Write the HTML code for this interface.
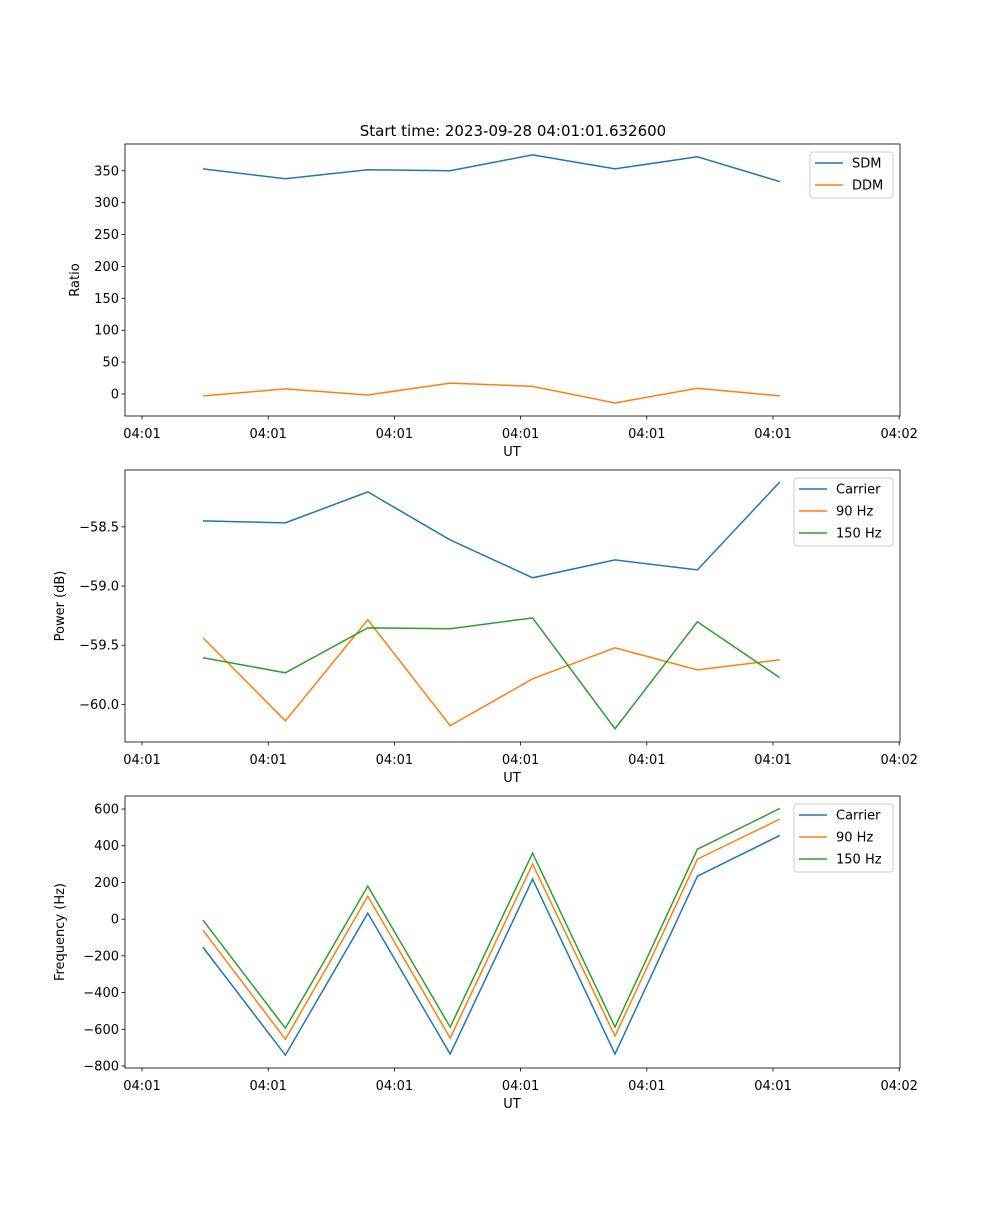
<!DOCTYPE html>
<html><head><meta charset="utf-8"><style>
body{margin:0;background:#fff;font-family:"Liberation Sans","DejaVu Sans",sans-serif}
svg text{font-family:"DejaVu Sans","Liberation Sans",sans-serif;font-size:13px;fill:#000}
</style></head><body>
<svg id="c" width="1000" height="1200" xmlns="http://www.w3.org/2000/svg">
<text x="513" y="136" text-anchor="middle" font-size="15" style="font-size:15px">Start time: 2023-09-28 04:01:01.632600</text>
</svg>
<script>
const times=[0.483,1.136,1.789,2.442,3.095,3.748,4.401,5.054];
const xTickVals=[0,1,2,3,4,5,6];
const xTickLabels=["04:01","04:01","04:01","04:01","04:01","04:01","04:02"];
const sdm=[353,337.5,351.6,350,375,353,372,333];
const ddm=[-3,8,-1.5,17,12,-14,9,-3];
const ratioTicks=[0,50,100,150,200,250,300,350];
const pCarrier=[-58.449,-58.466,-58.204,-58.61,-58.93,-58.779,-58.863,-58.12];
const p90=[-59.437,-60.139,-59.285,-60.18,-59.784,-59.522,-59.708,-59.623];
const p150=[-59.606,-59.733,-59.353,-59.361,-59.269,-60.206,-59.302,-59.775];
const powerTicks=[-60.0,-59.5,-59.0,-58.5];
const fCarrier=[-153,-741,33,-735,218,-735,234,456];
const f90=[-60,-654,125,-648,300,-637,327,545];
const f150=[-5,-594,180,-588,360,-588,381,603];
const freqTicks=[-800,-600,-400,-200,0,200,400,600];

const NS="http://www.w3.org/2000/svg";
const svg=document.getElementById('c');
function mk(t,a,p){const e=document.createElementNS(NS,t);for(const k in a)e.setAttribute(k,a[k]);(p||svg).appendChild(e);return e;}
const L=125,R=900;
function xs(t){return 142+t*126.2;}
const C=['#1f77b4','#ff7f0e','#2ca02c'];
function panel(name,top,bot,ymin,ymax,ticks,fmt,ylabel,ylabelX,series,names,leg){
 const g=mk('g',{});
 
 
 const ys=v=>bot-(v-ymin)/(ymax-ymin)*(bot-top);
 series.forEach((s,i)=>{
  const p=mk('polyline',{points:s.map((v,j)=>xs(times[j])+','+ys(v)).join(' '),fill:'none',stroke:C[i],'stroke-width':1.5},g);
  
  
 });
 const fr=mk('rect',{x:L,y:top,width:R-L,height:bot-top,fill:'none',stroke:'#000','stroke-width':0.8},g);
 
 
 xTickVals.forEach((t,i)=>{
  const x=xs(t);
  mk('line',{x1:x,x2:x,y1:bot,y2:bot+3.5,stroke:'#000','stroke-width':0.8},g);
  const tx=mk('text',{x:x,y:bot+22,'text-anchor':'middle'},g);tx.textContent=xTickLabels[i];
  
  
 });
 const xl=mk('text',{x:512,y:bot+40,'text-anchor':'middle'},g);xl.textContent='UT';
 
 
 ticks.forEach(v=>{
  const y=ys(v);
  mk('line',{x1:L-3.5,x2:L,y1:y,y2:y,stroke:'#000','stroke-width':0.8},g);
  const tx=mk('text',{x:L-6,y:y+4.5,'text-anchor':'end'},g);tx.textContent=fmt(v);
  
  
 });
 const cy=(top+bot)/2;
 const yl=mk('text',{x:ylabelX,y:cy,'text-anchor':'middle',transform:'rotate(-90 '+ylabelX+' '+cy+')'},g);yl.textContent=ylabel;
 
 
 const lg=mk('g',{},g);
 
 
 mk('rect',{x:leg[0],y:top+8,width:R-7-leg[0],height:names.length*22+2,rx:3,fill:'#fff',stroke:'#ccc','stroke-width':1},lg);
 names.forEach((n,i)=>{
  const y=top+19+i*22;
  const e=mk('g',{},lg);
  
  
  mk('line',{x1:leg[0]+5,x2:leg[0]+33,y1:y,y2:y,stroke:C[i],'stroke-width':1.5},e);
  const t=mk('text',{x:leg[0]+42,y:y+4.5},e);t.textContent=n;
 });
}
panel('ratio',144,416,-34.5,392,ratioTicks,v=>String(v),'Ratio',79,[sdm,ddm],['SDM','DDM'],[810]);
panel('power',470,742,-60.318,-58.019,powerTicks,v=>v.toFixed(1).replace('-','\u2212'),'Power (dB)',64,[pCarrier,p90,p150],['Carrier','90 Hz','150 Hz'],[794]);
panel('frequency',796,1068,-811,671,freqTicks,v=>String(v).replace('-','\u2212'),'Frequency (Hz)',64,[fCarrier,f90,f150],['Carrier','90 Hz','150 Hz'],[794]);
</script>
</body></html>
